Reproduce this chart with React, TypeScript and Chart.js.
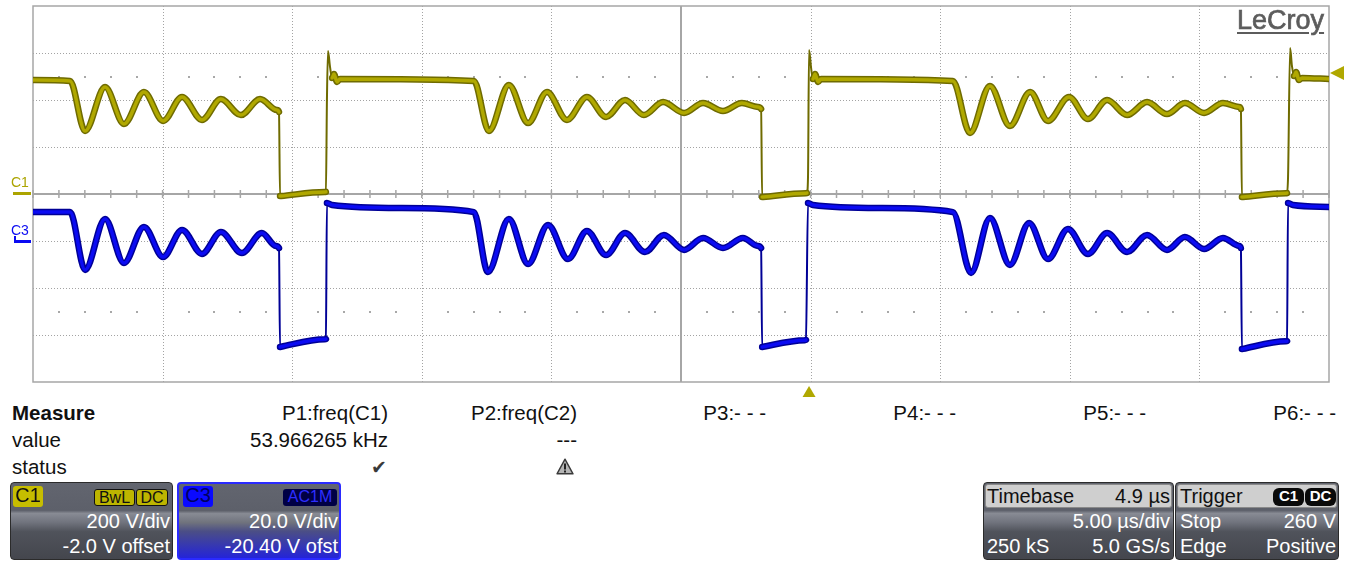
import React, { useEffect, useRef } from "react";
import { Chart, registerables } from "chart.js";

Chart.register(...registerables);

// ---------- DATA ----------
// Channel C1 (200 V/div): time in µs, voltage in V
const c1TimeUs = [
  -25.0, -23.57, -22.99, -22.22, -21.49, -20.72, -19.98, -19.25, -18.48, -17.75, -16.98, -16.24, -15.59, -15.51, -15.47, -15.43, -13.74, -13.7, -13.66, -13.62, -13.54, -13.46, -13.39, -13.27, -13.16,
  -7.99, -7.41, -6.64, -5.9, -5.17, -4.4, -3.63, -2.89, -2.16, -1.43, -0.69, 0.12, 0.85, 1.62, 2.35, 2.97, 3.09, 3.13, 3.17, 4.82, 4.86, 4.9, 4.94, 5.02, 5.09, 5.17, 5.29, 5.4,
  10.49, 11.15, 11.92, 12.69, 13.47, 14.16, 14.97, 15.7, 16.44, 17.21, 17.98, 18.75, 19.44, 20.18, 20.91, 21.53, 21.6, 21.64, 21.68, 23.34, 23.38, 23.42, 23.5, 23.57, 23.65, 23.73, 23.84, 23.96, 25.0,
];
const c1Volts = [
  485, 481, 268, 455, 298, 434, 311, 413, 315, 404, 336, 404, 357, 349, -9, -8.6, 8.6, 9, 400, 609, 540, 494, 511, 477, 489,
  481, 268, 464, 302, 434, 315, 413, 328, 400, 336, 391, 345, 387, 353, 387, 370, 362, -13, -12.6, 3.6, 4, 72, 613, 536, 489, 511, 477, 489,
  481, 260, 460, 289, 434, 311, 413, 319, 400, 336, 391, 340, 387, 345, 387, 370, 362, -13, -12.6, 3.6, 4, 72, 621, 545, 502, 519, 485, 494, 489,
];

// Channel C3 (20 V/div, -20.40 V offset): time in µs, voltage in V
const c3TimeUs = [
  -25.0, -23.57, -22.99, -22.22, -21.49, -20.72, -19.98, -19.25, -18.48, -17.75, -16.94, -16.17, -15.63, -15.51, -15.47, -15.43, -13.74, -13.7, -13.66, -13.46, -10.84,
  -7.99, -7.45, -6.64, -5.9, -5.13, -4.36, -3.63, -2.89, -2.16, -1.39, -0.66, 0.12, 0.85, 1.62, 2.39, 2.97, 3.09, 3.13, 3.17, 4.78, 4.82, 4.9, 5.09, 7.68,
  10.49, 11.19, 11.92, 12.69, 13.43, 14.16, 14.93, 15.7, 16.44, 17.21, 17.98, 18.75, 19.44, 20.18, 20.91, 21.53, 21.6, 21.64, 21.68, 23.34, 23.38, 23.42, 23.61, 25.0,
];
const c3Volts = [
  12.3, 12.3, -12.3, 9.4, -9.4, 6.0, -6.8, 4.7, -5.5, 3.8, -5.1, 3.4, -2.1, -3.0, -45.1, -45.0, -41.8, -41.7, 16.2, 15.3, 14.0,
  12.3, -13.2, 9.4, -9.8, 6.8, -7.7, 4.3, -6.0, 3.4, -4.7, 2.6, -3.8, 1.3, -3.0, 1.3, -2.1, -3.0, -45.1, -45.0, -42.2, -42.1, 16.2, 15.3, 14.0,
  12.3, -13.6, 9.8, -10.2, 7.7, -7.7, 5.1, -5.5, 3.4, -4.7, 2.6, -3.8, 1.7, -3.4, 1.3, -2.1, -3.0, -46.0, -45.9, -42.7, -42.6, 16.2, 15.3, 14.5,
];

// Grid (10 x 8 divisions)
const timeGridUs = [-25, -20, -15, -10, -5, 0, 5, 10, 15, 20, 25];
const c1GridVolts = [-800, -600, -400, -200, 0, 200, 400, 600, 800];
const c1DotRowVolts = [500, -500];
const triggerTimeUs = 4.94;
const triggerMarkerVolts = 515;

// Measurement table
const measureHeaders = ["P1:freq(C1)", "P2:freq(C2)", "P3:- - -", "P4:- - -", "P5:- - -", "P6:- - -"];
const measureValues = ["53.966265 kHz", "---", "", "", "", ""];

// ---------- STYLE ----------
const C1_CORE = "#b0a800";
const C1_EDGE = "#6f6b00";
const C1_LABEL = "#aca400";
const C3_CORE = "#0b0bf2";
const C3_EDGE = "#000096";
const GRID = "#a3a3a3";
const AXIS = "#a6a6a6";
const FONT = "'Liberation Sans', Arial, sans-serif";

const W = 1349;

const isEdge = (ctx: any) =>
  Math.abs(ctx.p1.x - ctx.p0.x) < 2.6 && Math.abs(ctx.p1.y - ctx.p0.y) > 8;

const scopeGrid = {
  id: "scopeGrid",
  beforeDatasetsDraw(chart: any) {
    const { ctx, chartArea: a, scales } = chart;
    const xs = scales.x;
    const ys = scales.y1;
    const px = (t: number) => Math.round(xs.getPixelForValue(t)) + 0.5;
    const py = (v: number) => Math.round(ys.getPixelForValue(v)) + 0.5;
    ctx.save();
    ctx.fillStyle = "#ffffff";
    ctx.fillRect(a.left, a.top, a.right - a.left, a.bottom - a.top);

    // dotted grid
    ctx.strokeStyle = GRID;
    ctx.lineWidth = 1;
    ctx.setLineDash([1, 2]);
    ctx.beginPath();
    for (const v of c1GridVolts) {
      if (v === 0 || Math.abs(v) >= 800) continue;
      const y = py(v);
      ctx.moveTo(a.left, y);
      ctx.lineTo(a.right, y);
    }
    for (const t of timeGridUs) {
      if (t === 0 || Math.abs(t) >= 25) continue;
      const x = px(t);
      ctx.moveTo(x, a.top);
      ctx.lineTo(x, a.bottom);
    }
    ctx.stroke();
    ctx.setLineDash([]);

    // center cross
    const y0 = ys.getPixelForValue(0);
    const x0 = xs.getPixelForValue(0);
    ctx.strokeStyle = AXIS;
    ctx.lineWidth = 2;
    ctx.beginPath();
    ctx.moveTo(a.left, y0);
    ctx.lineTo(a.right, y0);
    ctx.moveTo(x0, a.top);
    ctx.lineTo(x0, a.bottom);
    ctx.stroke();

    // minor ticks on the horizontal center line
    ctx.lineWidth = 1.5;
    ctx.beginPath();
    for (let t = -25; t <= 25; t += 1) {
      const x = xs.getPixelForValue(t);
      ctx.moveTo(x, y0 - 4);
      ctx.lineTo(x, y0 + 4);
    }
    ctx.stroke();

    // dot rows
    ctx.fillStyle = "#a8a8a8";
    for (const v of c1DotRowVolts) {
      const y = Math.round(ys.getPixelForValue(v));
      for (let t = -24; t <= 24; t += 1) {
        if (t % 5 === 0) continue;
        const x = Math.round(xs.getPixelForValue(t));
        ctx.fillRect(x - 1, y - 1, 2, 2);
      }
    }

    // border
    ctx.strokeStyle = AXIS;
    ctx.lineWidth = 1.5;
    ctx.strokeRect(a.left, a.top, a.right - a.left, a.bottom - a.top);
    ctx.restore();
  },
  afterDatasetsDraw(chart: any) {
    const { ctx, chartArea: a, scales } = chart;
    const xs = scales.x;
    const y1 = scales.y1;
    const y3 = scales.y3;
    ctx.save();
    // C1 ground marker
    const g1 = y1.getPixelForValue(0);
    ctx.fillStyle = C1_LABEL;
    ctx.fillRect(13, g1 - 2, 18, 3);
    // C3 ground marker
    const g3 = y3.getPixelForValue(0);
    ctx.fillStyle = C3_CORE;
    ctx.fillRect(15, g3 - 1, 16, 3);
    ctx.fillRect(14, g3 - 5, 2, 7);
    // trigger level marker (right side)
    const ty = y1.getPixelForValue(triggerMarkerVolts);
    ctx.fillStyle = C1_CORE;
    ctx.beginPath();
    ctx.moveTo(a.right + 1, ty);
    ctx.lineTo(a.right + 15, ty - 7);
    ctx.lineTo(a.right + 15, ty + 7);
    ctx.closePath();
    ctx.fill();
    // trigger time marker (bottom)
    const tx = xs.getPixelForValue(triggerTimeUs);
    ctx.beginPath();
    ctx.moveTo(tx, a.bottom + 4);
    ctx.lineTo(tx - 6.5, a.bottom + 15);
    ctx.lineTo(tx + 6.5, a.bottom + 15);
    ctx.closePath();
    ctx.fill();
    ctx.restore();
  },
};

type TxtProps = {
  x: number;
  y: number;
  children: React.ReactNode;
  align?: "left" | "right";
  size?: number;
  color?: string;
  weight?: number;
  family?: string;
};

function Txt({ x, y, children, align = "left", size = 20, color = "#111", weight = 400, family = FONT }: TxtProps) {
  const style: React.CSSProperties = {
    position: "absolute",
    top: y - size * 0.49,
    fontSize: size,
    lineHeight: `${size}px`,
    whiteSpace: "nowrap",
    color,
    fontWeight: weight,
    fontFamily: family,
  };
  if (align === "right") style.right = W - x;
  else style.left = x;
  return <div style={style}>{children}</div>;
}

function Pill({ x, y, w, h, bg, color, text, size = 17, border = "none", radius = 3, weight = 400 }: any) {
  return (
    <div
      style={{
        position: "absolute",
        left: x,
        top: y,
        width: w,
        height: h,
        background: bg,
        border,
        borderRadius: radius,
        boxSizing: "border-box",
        color,
        fontFamily: FONT,
        fontSize: size,
        fontWeight: weight,
        lineHeight: `${h - 2}px`,
        textAlign: "center",
        whiteSpace: "nowrap",
        overflow: "hidden",
      }}
    >
      {text}
    </div>
  );
}

const grayBody =
  "linear-gradient(to bottom, #62656f 0%, #5d606a 36%, #888b94 40%, #70737d 52%, #50535b 64%, #44464d 100%)";
const blueBody =
  "linear-gradient(to bottom, #62656f 0%, #5d606a 36%, #888b94 40%, #70737d 52%, #4b4e86 64%, #2424d8 100%)";

function Panel({ x, w, bg, border }: any) {
  return (
    <div
      style={{
        position: "absolute",
        left: x,
        top: 482,
        width: w,
        height: 78,
        background: bg,
        border,
        borderRadius: 4,
        boxSizing: "border-box",
      }}
    />
  );
}

function WarnIcon({ x, y }: { x: number; y: number }) {
  return (
    <svg style={{ position: "absolute", left: x, top: y }} width={18} height={17} viewBox="0 0 18 17">
      <path d="M9 1.2 L17 15.8 L1 15.8 Z" fill="#b4b4b4" stroke="#3a3a3a" strokeWidth={1.4} strokeLinejoin="round" />
      <rect x={8} y={5.5} width={2} height={6} fill="#222" />
      <rect x={8} y={12.5} width={2} height={2} fill="#222" />
    </svg>
  );
}

export default function App() {
  const canvasRef = useRef<HTMLCanvasElement | null>(null);

  useEffect(() => {
    const canvas = canvasRef.current;
    if (!canvas) return;
    const c1Data = c1TimeUs.map((t, i) => ({ x: t, y: c1Volts[i] }));
    const c3Data = c3TimeUs.map((t, i) => ({ x: t, y: c3Volts[i] }));
    const chart = new Chart(canvas, {
      type: "line",
      data: {
        datasets: [
          {
            label: "C1",
            data: c1Data,
            yAxisID: "y1",
            borderColor: C1_CORE,
            borderWidth: 3.5,
            order: 0,
            segment: { borderColor: (ctx: any) => (isEdge(ctx) ? "rgba(0,0,0,0)" : undefined) },
          },
          {
            label: "C1 envelope",
            data: c1Data,
            yAxisID: "y1",
            borderColor: C1_EDGE,
            borderWidth: 6.5,
            order: 1,
            segment: { borderWidth: (ctx: any) => (isEdge(ctx) ? 2 : undefined) },
          },
          {
            label: "C3",
            data: c3Data,
            yAxisID: "y3",
            borderColor: C3_CORE,
            borderWidth: 3.5,
            order: 2,
            segment: { borderColor: (ctx: any) => (isEdge(ctx) ? "rgba(0,0,0,0)" : undefined) },
          },
          {
            label: "C3 envelope",
            data: c3Data,
            yAxisID: "y3",
            borderColor: C3_EDGE,
            borderWidth: 6.5,
            order: 3,
            segment: { borderWidth: (ctx: any) => (isEdge(ctx) ? 2 : undefined) },
          },
        ],
      },
      options: {
        animation: false,
        responsive: false,
        events: [],
        layout: { padding: { left: 33, top: 6, right: 20, bottom: 18 } },
        elements: {
          point: { radius: 0 },
          line: { cubicInterpolationMode: "monotone", borderJoinStyle: "round", borderCapStyle: "round" },
        },
        scales: {
          x: { type: "linear", min: -25, max: 25, display: false },
          y1: { type: "linear", min: -800, max: 800, display: false },
          y3: { type: "linear", min: -60, max: 100, display: false },
        },
        plugins: { legend: { display: false }, tooltip: { enabled: false } },
      } as any,
      plugins: [scopeGrid],
    });
    return () => chart.destroy();
  }, []);

  const colRight = [388, 577, 766, 956, 1146, 1336];

  return (
    <div
      style={{
        position: "absolute",
        left: 0,
        top: 0,
        width: W,
        height: 561,
        background: "#ffffff",
        overflow: "hidden",
        fontFamily: FONT,
      }}
    >
      <canvas ref={canvasRef} width={W} height={400} style={{ position: "absolute", left: 0, top: 0, width: W, height: 400 }} />

      {/* channel labels */}
      <Txt x={11} y={182} size={14} color={C1_LABEL}>C1</Txt>
      <Txt x={11} y={230} size={14} color={C3_CORE}>C3</Txt>

      {/* logo */}
      <div
        style={{
          position: "absolute",
          left: 1237,
          top: 7,
          fontFamily: FONT,
          fontSize: 27,
          lineHeight: "27px",
          color: "#5c5c5c",
          WebkitTextStroke: "0.7px #5c5c5c",
          textDecoration: "underline",
          textDecorationThickness: "2px",
          textUnderlineOffset: "3px",
        }}
      >
        LeCroy
      </div>

      {/* measurement table */}
      <Txt x={12} y={413} size={20.5} weight={700}>Measure</Txt>
      <Txt x={12} y={440} size={20.5}>value</Txt>
      <Txt x={12} y={467} size={20.5}>status</Txt>
      {measureHeaders.map((h, i) => (
        <Txt key={"h" + i} x={colRight[i]} y={413} size={20.5} align="right">{h}</Txt>
      ))}
      {measureValues.map((v, i) =>
        v ? (
          <Txt key={"v" + i} x={colRight[i]} y={440} size={20.5} align="right">{v}</Txt>
        ) : null
      )}
      <Txt x={387} y={467} align="right" size={19} color="#3a3a3a" family="'DejaVu Sans', sans-serif">{"\u2714"}</Txt>
      <WarnIcon x={556} y={458} />

      {/* C1 panel */}
      <Panel x={10} w={163} bg={grayBody} border="1px solid #2b2b2b" />
      <Pill x={13} y={486} w={30} h={21} bg="#c6bd00" color="#111" text="C1" size={20} />
      <Pill x={94} y={489} w={41} h={17} bg="#bdb500" color="#111" text="BwL" size={16} border="1px solid #111" />
      <Pill x={136} y={489} w={32} h={17} bg="#bdb500" color="#111" text="DC" size={16} border="1px solid #111" />
      <Txt x={170} y={521} align="right" color="#ffffff">200 V/div</Txt>
      <Txt x={170} y={546} align="right" color="#ffffff">-2.0 V offset</Txt>

      {/* C3 panel */}
      <Panel x={177} w={164} bg={blueBody} border="2px solid #2a2aff" />
      <Pill x={183} y={486} w={30} h={21} bg="#0a0aff" color="#000060" text="C3" size={20} />
      <Pill x={283} y={489} w={54} h={17} bg="#000045" color="#2e2eff" text="AC1M" size={16} />
      <Txt x={338} y={521} align="right" color="#ffffff">20.0 V/div</Txt>
      <Txt x={338} y={546} align="right" color="#ffffff">-20.40 V ofst</Txt>

      {/* Timebase panel */}
      <Panel x={983} w={191} bg={grayBody} border="1px solid #2b2b2b" />
      <div style={{ position: "absolute", left: 985, top: 484, width: 187, height: 24, background: "#cfcfcf", border: "1px solid #8a8a8a", borderRadius: 3, boxSizing: "border-box" }} />
      <Txt x={987} y={496}>Timebase</Txt>
      <Txt x={1170} y={496} align="right">4.9 µs</Txt>
      <Txt x={1170} y={521} align="right" color="#ffffff">5.00 µs/div</Txt>
      <Txt x={987} y={546} color="#ffffff">250 kS</Txt>
      <Txt x={1170} y={546} align="right" color="#ffffff">5.0 GS/s</Txt>

      {/* Trigger panel */}
      <Panel x={1175} w={164} bg={grayBody} border="1px solid #2b2b2b" />
      <div style={{ position: "absolute", left: 1177, top: 484, width: 160, height: 24, background: "#cfcfcf", border: "1px solid #8a8a8a", borderRadius: 3, boxSizing: "border-box" }} />
      <Txt x={1180} y={496}>Trigger</Txt>
      <Pill x={1273} y={488} w={31} h={18} bg="#0a0a0a" color="#ffffff" text="C1" size={15} radius={6} weight={700} />
      <Pill x={1305} y={488} w={31} h={18} bg="#0a0a0a" color="#ffffff" text="DC" size={15} radius={6} weight={700} />
      <Txt x={1180} y={521} color="#ffffff">Stop</Txt>
      <Txt x={1336} y={521} align="right" color="#ffffff">260 V</Txt>
      <Txt x={1180} y={546} color="#ffffff">Edge</Txt>
      <Txt x={1336} y={546} align="right" color="#ffffff">Positive</Txt>
    </div>
  );
}
